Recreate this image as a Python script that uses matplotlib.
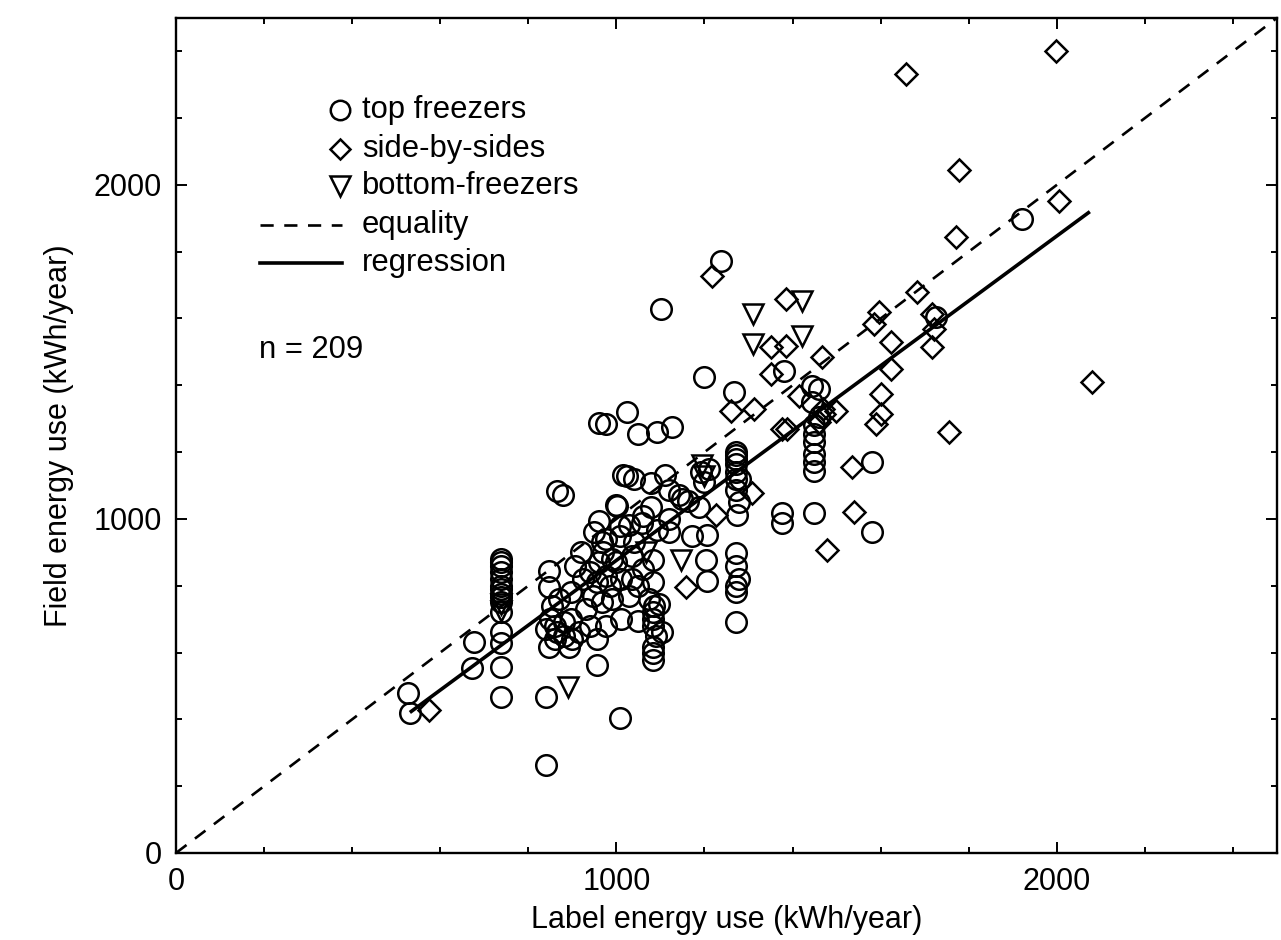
import matplotlib
matplotlib.use("Agg")
import matplotlib.pyplot as plt
from matplotlib.ticker import MultipleLocator

plt.rcParams['font.family'] = ['Liberation Sans', 'DejaVu Sans']

# ---- data (kWh/year) ----
top_x = [526, 531, 676, 673,
         739, 739, 739, 739, 739, 739, 739, 739, 739, 739, 739,
         841, 955, 1007, 841, 848, 846, 853, 841, 848, 866, 893, 905, 898, 898,
         916, 939, 946, 957, 968, 977, 961, 950, 968, 961, 1002, 1007, 878, 866,
         1014, 1023, 961, 977, 1048, 1093, 1127, 1025, 1079, 1120, 1143, 1000,
         1079, 1193, 1272, 1272, 1272, 1272, 1274, 1188, 1172, 1206, 1204, 1206,
         1272, 1272, 1279, 1272, 1272, 1376, 1376, 1449, 1082, 1082, 1090, 1082,
         1048, 1097, 1082, 1082, 1093, 1059, 1029, 991, 1029, 1036, 977, 977,
         1007, 1036, 1075, 1104, 1086, 1238, 1102, 1200, 1381, 1268, 1444, 1460,
         1444, 1449, 1449, 1449, 1580, 1580, 1921, 1725, 1460, 1200, 1210,
         925, 985, 930, 1000, 920, 870, 880, 955, 1010, 1060, 1120, 1150, 1163,
         1040, 1110, 1271, 1280, 1279, 1449, 1449, 1040, 1060, 860, 850,
         739, 739, 739, 739, 1082, 1082, 1082, 1272, 1272, 1272,
         940, 990, 970, 1010, 1050, 860, 880, 900, 1449, 1120]
top_y = [480, 420, 633, 555,
         879, 858, 819, 789, 765, 750, 720, 660, 630, 558, 468,
         468, 564, 405, 264, 843, 795, 738, 669, 618, 660, 618, 858, 780, 699,
         660, 678, 768, 810, 750, 678, 870, 960, 930, 993, 1038, 978, 1073, 1083,
         1130, 1319, 1286, 1283, 1253, 1259, 1274, 1127, 1109, 1088, 1073, 1043,
         1037, 1139, 1199, 1180, 1165, 1088, 1013, 1037, 948, 953, 878, 813,
         899, 858, 819, 780, 690, 1019, 989, 1019, 579, 618, 648, 678,
         693, 744, 810, 878, 968, 989, 983, 759, 768, 819, 828, 939,
         948, 888, 759, 660, 738, 1772, 1628, 1424, 1442, 1379, 1397, 1388,
         1349, 1253, 1193, 1142, 1169, 962, 1898, 1604, 1305, 1110, 1150,
         820, 800, 730, 870, 900, 760, 690, 640, 700, 850, 1000, 1060, 1055,
         1120, 1130, 1140, 1120, 1050, 1230, 1170, 930, 1010, 640, 700,
         870, 840, 800, 775, 600, 700, 720, 1190, 1120, 800,
         840, 880, 900, 820, 800, 680, 650, 640, 1280, 960]

side_x = [574, 1218, 1385, 1351, 1385, 1467, 1351, 1261, 1313, 1415, 1499,
          1596, 1585, 1624, 1624, 1601, 1601, 1590, 1376, 1388, 1472, 1535,
          1540, 1478, 1771, 1683, 1717, 1721, 1717, 2079, 1755, 1998, 1658,
          1778, 2005, 1159, 1227, 1308, 1460, 1470]
side_y = [429, 1727, 1658, 1514, 1517, 1484, 1433, 1322, 1328, 1367, 1322,
          1619, 1583, 1529, 1448, 1373, 1313, 1283, 1268, 1268, 1313, 1154,
          1022, 908, 1844, 1679, 1613, 1568, 1514, 1409, 1259, 2402, 2333,
          2045, 1952, 795, 1013, 1079, 1290, 1330]

bottom_x = [891, 739, 739, 1147, 1195, 1200, 1311, 1422, 1311, 1422, 1068]
bottom_y = [498, 745, 725, 878, 1160, 1127, 1613, 1652, 1523, 1547, 900]

equality_x = [0, 2500]
reg_slope, reg_intercept = 0.971, -95.0
reg_x = [531, 2075]
n_obs = 209

# ---- figure ----
fig = plt.figure(figsize=(12.81, 9.40), dpi=100)
ax = fig.add_axes([0.1374, 0.0926, 0.8595, 0.8884])

mk = dict(linestyle='none', markerfacecolor='none', markeredgecolor='black',
          markeredgewidth=1.8)
ax.plot(top_x, top_y, marker='o', markersize=14.8, **mk)
ax.plot(side_x, side_y, marker='D', markersize=11, **mk)
ax.plot(bottom_x, bottom_y, marker='v', markersize=15, **mk)

ax.plot(equality_x, equality_x, color='black', lw=1.9, linestyle=(0, (5, 4)))
ax.plot(reg_x, [reg_intercept + reg_slope * v for v in reg_x],
        color='black', lw=2.6, solid_capstyle='butt')

ax.set_xlim(0, 2500)
ax.set_ylim(0, 2500)
ax.xaxis.set_major_locator(MultipleLocator(1000))
ax.yaxis.set_major_locator(MultipleLocator(1000))
ax.xaxis.set_minor_locator(MultipleLocator(200))
ax.yaxis.set_minor_locator(MultipleLocator(200))
ax.tick_params(which='both', direction='in', top=True, right=True,
               width=1.4, labelsize=22)
ax.tick_params(which='major', length=8, pad=10)
ax.tick_params(which='minor', length=4.5)
for s in ax.spines.values():
    s.set_linewidth(1.7)

ax.set_xlabel('Label energy use (kWh/year)', fontsize=22, labelpad=6)
ax.set_ylabel('Field energy use (kWh/year)', fontsize=22, labelpad=14)

# ---- legend drawn in axes coordinates ----
tr = ax.transAxes
rows = [0.890, 0.843, 0.799, 0.752, 0.707]
mx, tx = 0.149, 0.169
ax.plot([mx], [rows[0]], marker='o', markersize=14, transform=tr, clip_on=False, **mk)
ax.plot([mx], [rows[1]], marker='D', markersize=10.5, transform=tr, clip_on=False, **mk)
ax.plot([mx], [rows[2]], marker='v', markersize=14, transform=tr, clip_on=False, **mk)
ax.plot([0.0763, 0.151], [rows[3]] * 2, color='black', lw=1.9,
        linestyle=(0, (5, 4)), transform=tr)
ax.plot([0.0763, 0.151], [rows[4]] * 2, color='black', lw=2.6, transform=tr)
labels = ['top freezers', 'side-by-sides', 'bottom-freezers', 'equality', 'regression']
for r, t in zip(rows, labels):
    ax.text(tx, r, t, transform=tr, fontsize=22.3, va='center', ha='left')
ax.text(0.0754, 0.602, f'n = {n_obs}', transform=tr, fontsize=22.3,
        va='center', ha='left')

fig.savefig('out.png', dpi=100)
